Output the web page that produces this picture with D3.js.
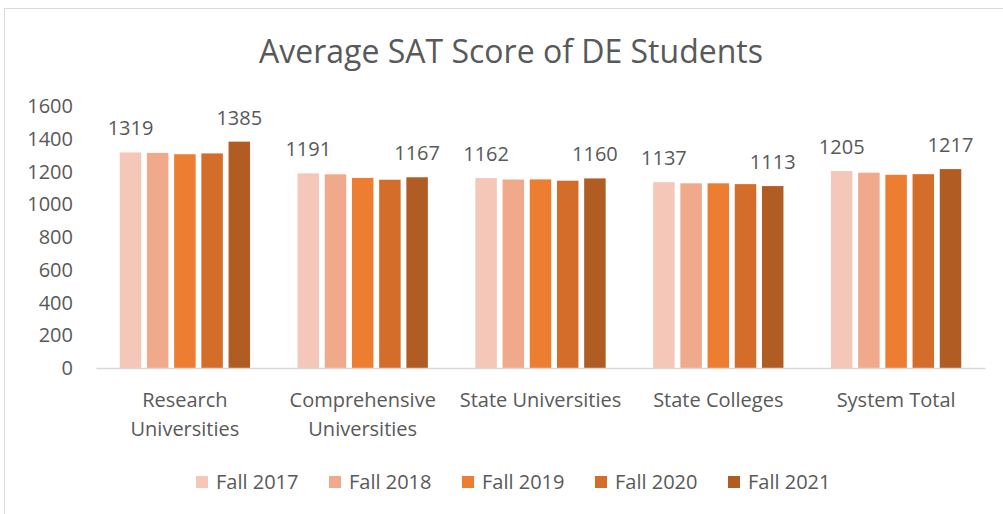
<!DOCTYPE html>
<html>
<head>
<meta charset="utf-8">
<style>
  body { margin: 0; background: #fff; }
  text { font-family: "Open Sans", sans-serif; fill: #595959; }
</style>
</head>
<body>
<script src="https://cdn.jsdelivr.net/npm/d3@7"></script>
<script>
// chart data
var categories = ['Research Universities', 'Comprehensive Universities', 'State Universities', 'State Colleges', 'System Total'];
var seriesNames = ['Fall 2017', 'Fall 2018', 'Fall 2019', 'Fall 2020', 'Fall 2021'];
var fall2017 = [1319, 1191, 1162, 1137, 1205];
var fall2018 = [1316, 1185, 1153, 1130, 1195];
var fall2019 = [1308, 1163, 1154, 1130, 1182];
var fall2020 = [1313, 1152, 1146, 1125, 1186];
var fall2021 = [1385, 1167, 1160, 1113, 1217];
var yTicks = [0, 200, 400, 600, 800, 1000, 1200, 1400, 1600];
var colors = ['#F5C7B8', '#F1A98B', '#ED7D31', '#D46D2A', '#B05C23'];

var series = [fall2017, fall2018, fall2019, fall2020, fall2021];
var labelled = [0, 4]; // only first and last series get data labels

var width = 1003, height = 514;
var plot = { left: 96, right: 985, top: 106.5, bottom: 368 };

var svg = d3.select('body').append('svg')
  .attr('width', width)
  .attr('height', height);

// chart border
svg.append('rect')
  .attr('x', 4.5).attr('y', 8.5)
  .attr('width', 1100).attr('height', 600)
  .attr('fill', 'none')
  .attr('stroke', '#D9D9D9');

svg.append('text')
  .attr('x', 511).attr('y', 63)
  .attr('text-anchor', 'middle')
  .style('font-size', '32px')
  .text('Average SAT Score of DE Students');

var x0 = d3.scaleBand()
  .domain(categories)
  .range([plot.left, plot.right])
  .paddingInner(0.235)
  .paddingOuter(0.1175);

var x1 = d3.scaleBand()
  .domain(d3.range(seriesNames.length))
  .range([0, x0.bandwidth()])
  .paddingInner(0.21)
  .paddingOuter(0.105);

var y = d3.scaleLinear()
  .domain([0, 1600])
  .range([plot.bottom, plot.top]);

// y axis labels (no line, no gridlines)
var yAxis = d3.axisLeft(y).tickValues(yTicks).tickFormat(d3.format('d')).tickSize(0).tickPadding(0);
var gy = svg.append('g')
  .attr('transform', 'translate(73,0)')
  .call(yAxis);
gy.select('.domain').remove();
gy.selectAll('text')
  .style('font-size', '20px')
  .attr('fill', '#595959')
  .style('font-family', '"Open Sans", sans-serif');

// bars
var groups = svg.append('g').selectAll('g')
  .data(categories)
  .enter().append('g')
  .attr('transform', function(d) { return 'translate(' + x0(d) + ',0)'; });

groups.selectAll('rect')
  .data(function(d, i) { return series.map(function(s, j) { return { s: j, v: s[i] }; }); })
  .enter().append('rect')
  .attr('x', function(d) { return x1(d.s); })
  .attr('y', function(d) { return y(d.v); })
  .attr('width', x1.bandwidth())
  .attr('height', function(d) { return y(0) - y(d.v); })
  .attr('fill', function(d) { return colors[d.s]; });

groups.selectAll('text.lbl')
  .data(function(d, i) { return labelled.map(function(j) { return { s: j, v: series[j][i] }; }); })
  .enter().append('text')
  .attr('class', 'lbl')
  .attr('x', function(d) { return x1(d.s) + x1.bandwidth() / 2; })
  .attr('y', function(d) { return y(d.v) - 17; })
  .attr('text-anchor', 'middle')
  .style('font-size', '20px')
  .text(function(d) { return d.v; });

// x axis
var xAxis = d3.axisBottom(x0).tickSize(0).tickPadding(0);
var gx = svg.append('g')
  .attr('transform', 'translate(0,' + plot.bottom + ')')
  .call(xAxis);
gx.select('.domain').attr('stroke', '#D9D9D9').attr('stroke-width', 1.3);
gx.selectAll('.tick text').remove();

// category labels, wrapped to the band width
gx.selectAll('.tick').each(function(d) {
  var words = d.split(' ');
  var lines = [];
  var cur = '';
  var probe = svg.append('text').style('font-size', '20px');
  words.forEach(function(w) {
    var t = cur ? cur + ' ' + w : w;
    probe.text(t);
    if (cur && probe.node().getComputedTextLength() > x0.step() - 4) {
      lines.push(cur);
      cur = w;
    } else {
      cur = t;
    }
  });
  lines.push(cur);
  probe.remove();
  var txt = d3.select(this).append('text')
    .attr('text-anchor', 'middle')
    .attr('fill', '#595959')
    .style('font-size', '20px')
    .style('font-family', '"Open Sans", sans-serif');
  lines.forEach(function(l, i) {
    txt.append('tspan').attr('x', 0).attr('y', 39 + i * 29).text(l);
  });
});

// legend
var legend = svg.append('g').selectAll('g')
  .data(seriesNames)
  .enter().append('g')
  .attr('transform', function(d, i) { return 'translate(' + (196 + i * 133) + ',476)'; });
legend.append('rect')
  .attr('width', 12).attr('height', 12)
  .attr('fill', function(d, i) { return colors[i]; });
legend.append('text')
  .attr('x', 20).attr('y', 13)
  .style('font-size', '20px')
  .text(function(d) { return d; });
</script>
</body>
</html>
